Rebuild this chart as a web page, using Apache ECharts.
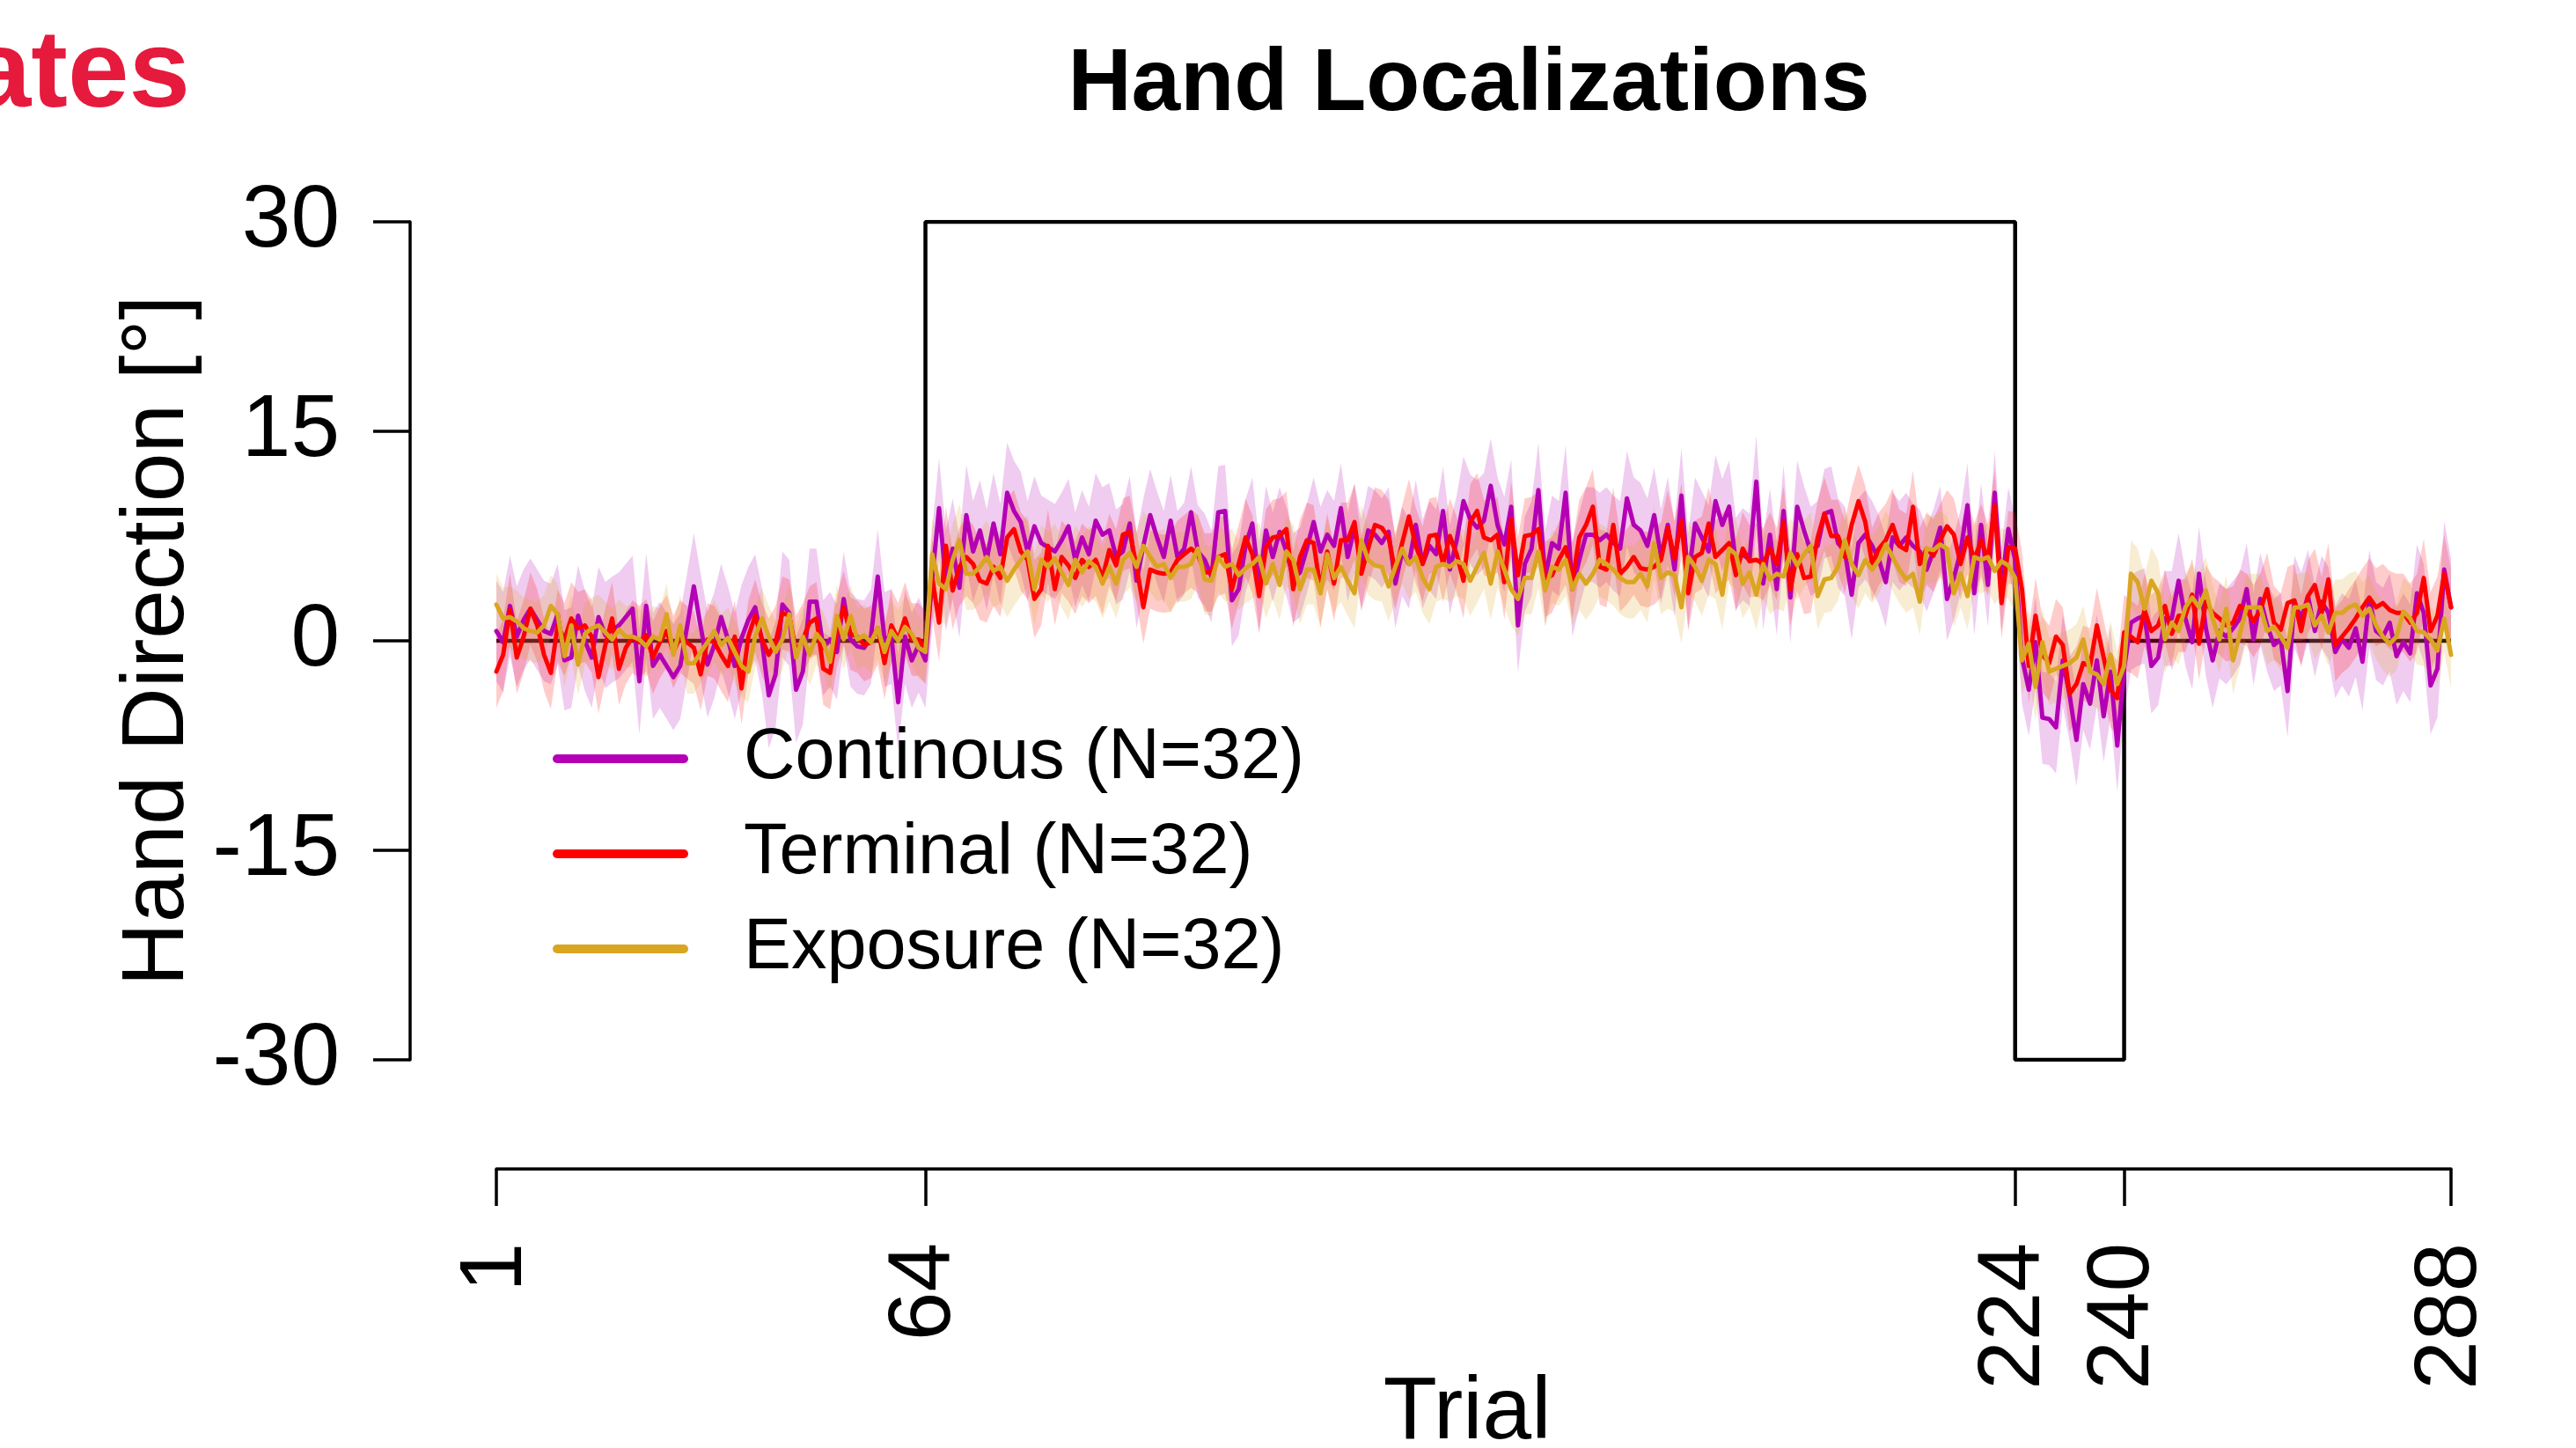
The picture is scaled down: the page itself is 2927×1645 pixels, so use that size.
<!DOCTYPE html>
<html><head><meta charset="utf-8">
<script src="https://cdn.jsdelivr.net/npm/echarts@6/dist/echarts.min.js"></script>
<style>html,body{margin:0;padding:0;background:#fff}#c{width:2927px;height:1645px}</style>
</head><body><div id="c"></div>
<script>
const trialTicks = [1, 64, 224, 240, 288];
const yTickStep = 15;
const scheduleTrials = [1, 64, 64, 224, 224, 240, 240, 288];
const scheduleDeg = [0, 0, 30, 30, -30, -30, 0, 0];
const seriesNames = ['Continous (N=32)', 'Terminal (N=32)', 'Exposure (N=32)'];

const continous = [
0.7,-0.1,2.5,0.3,1.5,2.3,1.5,0.7,0.5,1.9,
-1.4,-1.2,1.8,0.0,-1.2,1.7,0.4,0.8,1.1,1.7,
2.3,-2.9,2.5,-1.8,-1.0,-1.8,-2.6,-1.8,1.0,3.9,
1.0,-1.7,-0.3,1.7,0.1,-1.8,0.2,1.5,2.4,0.0,
-3.9,-2.4,2.6,2.0,-3.5,-2.2,2.8,2.8,-0.5,0.1,
-0.8,3.0,0.1,-0.4,-0.5,0.3,4.6,0.1,0.3,-4.4,
0.3,-1.4,-0.3,-1.4,4.5,9.5,4.3,6.6,3.8,9.0,
6.4,7.9,5.8,8.4,6.2,10.6,9.3,8.5,6.4,8.2,
7.0,6.7,6.4,7.2,8.2,5.8,7.4,6.2,8.6,7.6,
7.9,6.0,6.4,8.4,4.3,6.8,9.0,7.4,6.0,8.6,
6.0,6.6,9.2,6.4,5.8,4.6,9.2,9.3,2.9,3.7,
6.8,8.4,3.9,7.9,6.0,7.8,6.4,4.5,4.9,6.6,
8.5,6.4,7.6,6.8,9.5,6.0,8.1,5.5,7.9,7.6,
7.0,7.8,4.1,6.4,5.5,8.3,5.5,6.8,6.2,9.3,
5.1,7.2,10.0,8.7,8.1,8.6,11.1,8.3,6.9,9.6,
1.1,5.5,6.6,10.8,4.5,7.0,6.6,10.6,3.7,5.8,
7.6,7.6,7.2,7.6,7.0,6.6,10.2,8.3,7.9,6.8,
9.0,6.0,8.3,5.1,10.4,4.3,8.4,7.4,6.4,10.0,
8.3,9.6,5.5,6.2,5.8,11.4,4.1,7.6,3.7,9.3,
3.1,9.6,7.9,6.4,6.8,9.1,9.3,7.0,6.4,3.3,
7.0,7.6,6.8,5.8,4.2,7.4,6.8,7.4,6.8,6.4,
5.1,6.4,8.1,3.0,4.5,6.4,9.7,3.4,8.3,4.0,
10.6,3.7,8.0,5.8,-1.2,-3.5,-0.1,-5.5,-5.6,-6.2,
-1.4,-3.9,-7.1,-3.1,-4.5,-1.4,-5.4,-2.2,-7.5,-2.0,
1.3,1.6,1.8,-1.8,-1.2,1.6,1.6,4.3,1.6,-0.1,
4.8,0.9,-1.4,0.7,0.3,0.9,1.6,3.7,0.1,3.0,
1.1,-0.3,0.1,-3.6,2.8,1.6,3.2,0.7,2.8,2.0,
-0.8,0.1,-0.5,0.9,-1.5,3.0,0.7,0.3,1.3,-1.1,
-0.1,-0.9,3.4,2.0,-3.2,-2.0,5.1,2.4
];

const terminal = [
-2.2,-1.0,2.2,-1.2,0.3,2.3,1.1,-1.0,-2.3,1.1,
0.1,1.6,0.9,1.1,0.3,-2.6,-0.3,1.6,-2.0,-0.5,
0.3,-0.1,0.4,-1.2,-0.1,0.7,-0.8,0.3,-0.1,-0.5,
-2.4,0.1,-0.1,-1.0,-1.8,0.3,-3.4,0.3,1.8,0.1,
-1.0,-0.1,2.0,1.8,-0.8,0.1,1.3,1.6,-2.0,-2.3,
0.7,2.4,0.5,0.3,-0.3,-0.1,0.9,-1.6,1.1,0.1,
1.6,0.1,0.1,-0.5,4.5,1.3,6.8,3.6,5.3,6.0,
5.5,4.3,4.1,5.3,4.5,7.4,8.0,6.4,5.8,3.0,
3.7,6.8,3.7,6.0,5.4,4.5,5.8,5.3,5.8,4.5,
6.5,5.4,7.6,7.8,5.3,2.4,5.1,4.9,4.8,4.9,
5.8,6.2,6.6,6.2,4.9,4.9,6.0,6.2,3.7,5.5,
7.4,6.2,3.2,6.7,7.4,7.5,8.0,3.7,6.0,7.2,
7.0,3.7,6.4,4.1,7.2,7.2,8.5,4.8,6.6,8.3,
8.1,7.4,4.9,7.0,8.9,6.8,5.5,7.5,7.6,5.5,
7.5,6.2,4.3,8.5,9.3,7.4,7.2,7.6,4.2,8.7,
4.7,7.5,7.6,8.0,4.4,4.7,5.8,6.7,4.3,7.4,
8.3,9.6,5.3,5.1,8.3,4.8,5.3,6.0,5.2,5.1,
5.3,5.8,8.1,5.9,8.6,3.4,6.0,6.3,8.4,6.0,
6.5,7.0,4.7,6.6,5.7,5.8,5.5,6.6,5.5,8.5,
3.7,6.2,4.5,4.6,7.4,9.1,7.5,7.5,6.0,8.3,
10.0,8.5,5.5,6.6,7.2,8.3,6.8,6.5,9.6,5.5,
6.6,6.1,7.2,8.2,7.6,5.5,7.4,5.8,7.2,5.8,
9.7,2.7,6.7,6.6,3.7,-1.8,1.8,-1.0,-1.6,0.3,
-0.3,-3.8,-3.1,-1.6,-1.8,1.1,-1.2,-3.5,-4.1,0.6,
0.3,-0.1,2.2,0.7,1.1,2.5,0.5,1.8,1.8,3.3,
-0.2,2.8,2.0,1.6,1.1,1.3,2.5,2.2,1.4,2.2,
3.7,1.3,0.8,2.7,2.9,0.7,3.2,4.0,2.0,4.4,
-0.3,0.3,0.9,1.6,2.4,3.1,2.4,2.7,2.2,2.0,
2.0,1.3,2.0,4.5,0.7,1.8,4.8,2.4
];

const exposure = [
2.6,1.6,1.7,1.4,0.9,0.7,0.6,1.1,2.5,1.9,
-1.1,1.1,-1.7,0.5,0.9,1.1,0.6,0.1,0.8,0.3,
0.3,0.1,-0.4,0.3,0.1,1.9,-1.0,1.1,-1.6,-1.6,
-0.8,-0.1,0.7,-0.3,0.2,-0.8,-1.8,-2.2,0.3,1.6,
0.3,-0.8,0.1,1.9,-1.2,0.3,-1.0,0.5,-0.1,-1.5,
1.8,0.1,1.8,0.1,0.4,-0.1,0.9,-0.8,0.7,0.0,
1.0,0.5,-0.5,-0.8,6.2,4.1,3.7,5.8,7.2,4.8,
4.8,5.3,6.0,5.0,5.3,4.3,5.1,5.8,6.4,3.7,
5.8,5.3,5.9,4.9,4.0,5.8,4.9,5.7,5.3,4.1,
5.3,4.1,5.8,6.3,5.3,6.8,6.0,5.3,5.5,4.5,
5.3,5.3,5.5,6.6,4.4,4.3,6.0,5.3,5.5,4.7,
5.2,5.5,6.0,4.1,5.5,4.0,6.4,5.8,3.7,5.1,
5.1,3.4,6.2,4.5,5.3,4.3,3.4,7.2,5.8,5.4,
5.3,3.9,5.3,6.6,5.5,6.0,4.5,3.7,5.3,5.5,
5.3,5.7,5.5,4.3,5.3,6.3,4.1,6.4,5.1,3.7,
3.0,4.5,4.5,6.4,3.6,5.3,5.1,5.8,3.7,4.8,
4.1,4.8,5.8,5.5,5.1,4.5,4.2,4.2,4.8,3.9,
7.0,4.5,4.9,4.7,2.4,6.0,5.3,4.3,5.8,5.5,
3.3,6.6,6.2,4.1,4.9,3.3,5.5,4.4,4.8,4.6,
6.3,5.4,6.2,6.8,3.2,4.4,4.5,5.3,7.2,5.5,
4.7,5.8,5.1,5.8,6.9,6.0,5.1,4.4,4.8,2.8,
6.6,6.5,6.9,6.6,3.4,4.8,3.2,6.0,5.8,6.0,
5.0,5.7,5.4,4.5,-1.4,-0.2,-3.3,-0.1,-2.2,-2.0,
-1.8,-1.6,-1.2,0.1,-2.2,-2.4,-3.1,-1.0,-3.1,-1.8,
4.8,4.2,2.3,4.3,3.4,0.1,1.3,0.7,2.4,3.1,
2.4,3.6,1.6,0.1,2.3,-1.4,0.5,2.4,2.4,2.4,
0.7,1.0,0.3,-0.5,2.4,2.4,2.6,1.1,1.8,0.6,
2.0,2.0,2.4,2.6,1.8,2.3,1.1,0.3,-0.2,0.3,
2.1,1.6,0.7,0.6,0.1,-0.7,1.6,-1.0
];

// half-width of the 95% confidence band, per block of 16 trials
const continousCI = [3.6,3.8,3.8,3.4,3.6,3.4,3.3,3.2,3.2,3.4,3.4,3.3,3.2,3.0,3.3,3.4,3.3,3.5];
const terminalCI  = [2.6,2.6,2.6,2.6,2.8,2.6,2.8,2.7,2.7,2.7,2.7,2.6,2.6,2.6,2.7,2.6,2.6,2.8];
const exposureCI  = [2.2,2.2,2.2,2.2,2.6,2.5,2.5,2.5,2.5,2.6,2.6,2.5,2.4,2.4,2.4,2.4,2.4,2.4];
const CI_BLOCK = 16;

const lineColors = ['#b400b4', '#ff0000', '#daa520'];
const bandColors = ['rgba(180,0,180,0.2)', 'rgba(255,0,0,0.2)', 'rgba(218,165,32,0.2)'];

const FONT = '"Liberation Sans", Arial, Helvetica, sans-serif';

function pairs(vals) { return vals.map((v, i) => [i + 1, v]); }

function bandSeries(name, vals, hw, color) {
  const rows = vals.map((v, i) => {
    const h = hw[Math.floor(i / CI_BLOCK)];
    return [i + 1, +(v - h).toFixed(2), +(v + h).toFixed(2)];
  });
  return {
    name: name + ' band', type: 'custom', data: rows, silent: true, z: 2, animation: false,
    encode: { x: 0, y: [1, 2] },
    renderItem: function (params, api) {
      if (params.dataIndex !== 0) return null;
      const pts = [];
      for (let i = 0; i < rows.length; i++) pts.push(api.coord([rows[i][0], rows[i][2]]));
      for (let i = rows.length - 1; i >= 0; i--) pts.push(api.coord([rows[i][0], rows[i][1]]));
      return { type: 'polygon', shape: { points: pts }, style: { fill: color, stroke: null } };
    }
  };
}
function lineSeries(name, vals, color) {
  return { name: name, type: 'line', data: pairs(vals), symbol: 'none', showSymbol: false, z: 3, animation: false,
    itemStyle: { color: color },
    lineStyle: { color: color, width: 5, join: 'round', cap: 'round' } };
}

const allVals = [continous, terminal, exposure];
const allCI = [continousCI, terminalCI, exposureCI];

const series = [];
series.push({ name: 'schedule', type: 'line', data: scheduleTrials.map((t, i) => [t, scheduleDeg[i]]),
  symbol: 'none', silent: true, z: 1, animation: false, lineStyle: { color: '#000', width: 4.5 } });
for (let k = 0; k < 3; k++) series.push(bandSeries(seriesNames[k], allVals[k], allCI[k], bandColors[k]));
for (let k = 0; k < 3; k++) series.push(lineSeries(seriesNames[k], allVals[k], lineColors[k]));

const chart = echarts.init(document.getElementById('c'), null, { renderer: 'canvas' });
chart.setOption({
  animation: false,
  backgroundColor: '#fff',
  grid: { left: 564, right: 142, top: 252, bottom: 441, containLabel: false, outerBoundsMode: 'none' },
  xAxis: {
    type: 'value', min: 1, max: 288, offset: 124,
    splitLine: { show: false },
    axisLine: { show: true, onZero: false, lineStyle: { color: '#000', width: 3.5 } },
    axisTick: { show: true, length: 42, lineStyle: { color: '#000', width: 3.5 }, customValues: trialTicks },
    axisLabel: { customValues: trialTicks, rotate: 90, margin: 84, fontSize: 100, fontFamily: FONT, color: '#000' }
  },
  yAxis: {
    type: 'value', min: -30, max: 30, interval: yTickStep, offset: 98,
    splitLine: { show: false },
    axisLine: { show: true, onZero: false, lineStyle: { color: '#000', width: 3.5 } },
    axisTick: { show: true, length: 42, lineStyle: { color: '#000', width: 3.5 } },
    axisLabel: { margin: 80, fontSize: 100, fontFamily: FONT, color: '#000' }
  },
  legend: {
    data: seriesNames, orient: 'vertical', left: 623, top: 812,
    itemWidth: 154, itemHeight: 10, itemGap: 18, selectedMode: false,
    icon: 'path://M5,0H149A5,5 0 0 1 149,10H5A5,5 0 0 1 5,0Z',
    textStyle: { fontFamily: FONT, fontSize: 81, color: '#000', lineHeight: 90, padding: [0, 0, 0, 58] }
  },
  graphic: [
    { type: 'text', x: 1669, y: 97, silent: true,
      style: { text: 'Hand Localizations', fontFamily: FONT, fontWeight: 'bold', fontSize: 100, fill: '#000', align: 'center', verticalAlign: 'middle' } },
    { type: 'text', x: 216, y: 87, silent: true,
      style: { text: 'ates', fontFamily: FONT, fontWeight: 'bold', fontSize: 125, fill: '#e51a3d', align: 'right', verticalAlign: 'middle' } },
    { type: 'text', x: 180, y: 728, rotation: Math.PI / 2, silent: true,
      style: { text: 'Hand Direction [°]', fontFamily: FONT, fontSize: 100, fill: '#000', align: 'center', verticalAlign: 'middle' } },
    { type: 'text', x: 1667, y: 1606, silent: true,
      style: { text: 'Trial', fontFamily: FONT, fontSize: 100, fill: '#000', align: 'center', verticalAlign: 'middle' } }
  ],
  series: series
});
</script>
</body></html>
